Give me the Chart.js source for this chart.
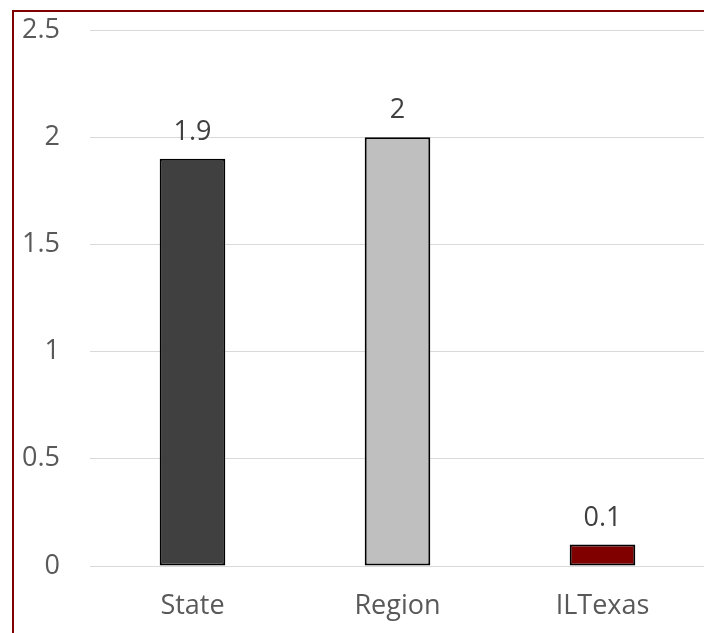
<!DOCTYPE html>
<html>
<head>
<meta charset="utf-8">
<script src="https://cdn.jsdelivr.net/npm/chart.js@4/dist/chart.umd.min.js"></script>
<style>
  html, body { margin: 0; padding: 0; background: #fff; overflow: hidden; }
  #wrap { position: relative; width: 704px; height: 633px; overflow: hidden; }
  #frame { position: absolute; left: 12px; top: 10px; width: 800px; height: 800px;
           border-left: 2px solid #800000; border-top: 2px solid #800000; }
  #box { position: absolute; left: 0; top: 0; width: 720px; height: 633px; }
</style>
</head>
<body>
<div id="wrap">
  <div id="box"><canvas id="chart"></canvas></div>
  <div id="frame"></div>
</div>
<script>
// datos
const categories = ['State', 'Region', 'ILTexas'];
const values = [1.9, 2, 0.1];
const barColors = ['#404040', '#bfbfbf', '#800000'];
const yTicks = [0, 0.5, 1, 1.5, 2, 2.5];

const FONT = "'Open Sans', sans-serif";

// etiquetas encima de cada barra
const valueLabels = {
    id: 'valueLabels',
    afterDatasetsDraw(chart) {
        const ctx = chart.ctx;
        const meta = chart.getDatasetMeta(0);
        ctx.save();
        ctx.font = '27px ' + FONT;
        ctx.fillStyle = '#404040';
        ctx.textAlign = 'center';
        ctx.textBaseline = 'alphabetic';
        meta.data.forEach(function(bar, i) {
            ctx.fillText(String(values[i]), bar.x, bar.y - 19);
        });
        ctx.restore();
    }
};

const ctx = document.getElementById('chart').getContext('2d');
const chart = new Chart(ctx, {
    type: 'bar',
    data: {
        labels: categories,
        datasets: [{
            data: values,
            backgroundColor: barColors,
            borderColor: '#000000',
            borderWidth: 2,
            borderSkipped: false,
            categoryPercentage: 1,
            barPercentage: 0.32
        }]
    },
    options: {
        responsive: true,
        maintainAspectRatio: false,
        animation: false,
        layout: { padding: { top: 30, right: 15, left: 0, bottom: 0 } },
        plugins: {
            legend: { display: false },
            tooltip: { enabled: false }
        },
        scales: {
            x: {
                grid: { display: false, drawTicks: false },
                border: { display: false },
                ticks: { color: '#595959', font: { family: FONT, size: 27 }, padding: 24 },
                afterFit(scale) {
                    scale.height = 67;
                    scale.paddingLeft = 0;
                    scale.paddingRight = 0;
                }
            },
            y: {
                min: 0,
                max: 2.5,
                afterBuildTicks(scale) { scale.ticks = yTicks.map(v => ({ value: v })); },
                grid: { color: '#d9d9d9', lineWidth: 1, drawTicks: false },
                border: { display: false },
                ticks: {
                    color: '#595959',
                    font: { family: FONT, size: 27 },
                    padding: 30,
                    callback: v => String(v)
                },
                afterFit(scale) {
                    scale.width = 90;
                    scale.paddingTop = 0;
                    scale.paddingBottom = 0;
                }
            }
        }
    },
    plugins: [valueLabels]
});
</script>
</body>
</html>
